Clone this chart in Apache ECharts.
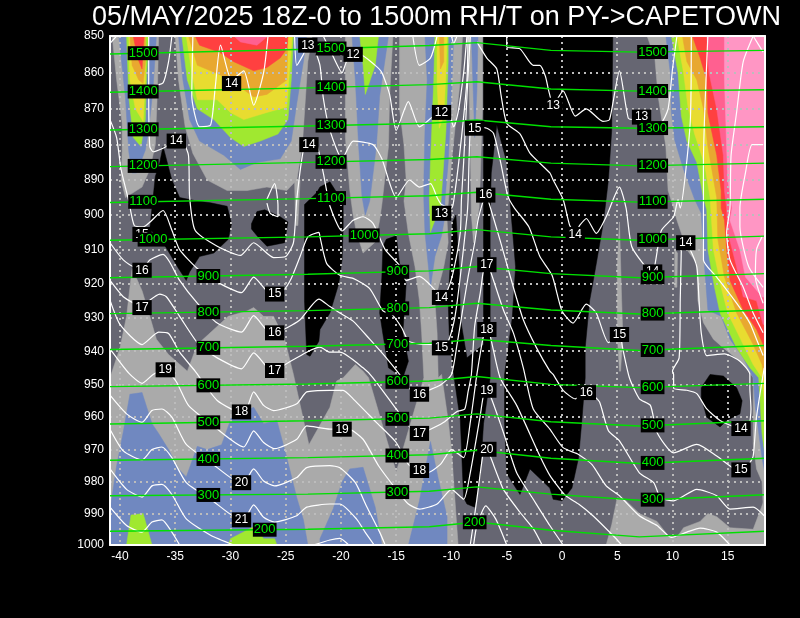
<!DOCTYPE html>
<html><head><meta charset="utf-8">
<style>html,body{margin:0;padding:0;background:#000}#c{width:800px;height:618px}</style>
<script src="https://cdn.jsdelivr.net/npm/echarts@6/dist/echarts.min.js"></script>
</head><body><div id="c"></div>
<script>
const titleText = '05/MAY/2025 18Z-0 to 1500m RH/T on PY->CAPETOWN';
const tempTicks = [-40,-35,-30,-25,-20,-15,-10,-5,0,5,10,15];
const pressureTicks = [850,860,870,880,890,900,910,920,930,940,950,960,970,980,990,1000];
const RH_COLORS = {lgray:'#aaaaaa',dark:'#666672',black:'#000000',blue:'#7088c0',lime:'#a0e830',yellow:'#e8dc30',orange:'#e8a830',red:'#ff4040',hot:'#ff6090',pink:'#ff96c4'};

// RH regions [T, p]
const grayLower=[[-40.9,1000],[-40.9,948],[-40,939],[-39.4,929.6],[-38.9,915.5],[-38,922],[-37.3,929.6],[-36.7,936.4],[-35.6,941],[-33.9,946],[-33,938],[-32,935],[-30.2,929.6],[-28.5,928],[-27.9,927],[-27,929.6],[-26.1,929.6],[-25.1,936.4],[-24.3,947],[-22.9,968.5],[-21,957],[-20.4,949],[-19.8,948],[-18.7,944],[-18,946],[-17.5,948],[-15,977],[-12.5,948],[-12.7,934.5],[-12.9,925],[-13.3,915],[-13.9,905.3],[-14.3,896],[-14.1,890],[-14.3,880],[-14.7,870],[-14.7,850],[-9,850],[-9.2,862],[-9.7,876],[-10,885],[-10.3,897],[-10.4,901.5],[-10.3,908],[-10.7,915],[-11.5,925],[-11.3,934.5],[-11.2,948],[-10.9,947],[-10.3,961],[-10,970],[-9.8,980],[-9.6,990],[-9.4,1000]];
const grayTower1=[[-40.7,850],[-40.3,862],[-39.8,874],[-39.8,882],[-39.9,890],[-39.5,895],[-38,892],[-37.3,887],[-36.8,880],[-36.6,864],[-36.5,850]];
const grayTower2=[[-35,850],[-34.7,862],[-34.1,875],[-33.4,882.5],[-32.1,890],[-30.3,893],[-28.5,893],[-26.7,892],[-24.9,893],[-24,890],[-23.5,880.5],[-23,857],[-22.6,850]];
const graySliver1=[[-24.2,890],[-23.7,890],[-23.9,903],[-24.1,903]];
const grayTower3=[[-19.6,850],[-19.6,878],[-19.2,893],[-18.9,900],[-18.6,905],[-18,911],[-16.9,907.8],[-16.5,901.5],[-16.3,897],[-15.7,880.5],[-15.6,866.5],[-15.3,850]];
const grayRight=[[7.7,850],[8.4,856],[8.7,866.5],[9.4,880.6],[9.6,893],[10.1,898],[10.4,901.5],[11.3,910],[12.2,914],[12.3,925],[12.8,931.5],[13.7,936.4],[14.6,939],[16.1,943],[16.7,945],[17.3,948],[17.3,968],[17.6,976],[18.1,980],[18.37,1000],[18.37,850]];
const graySpindleA=[[5.2,902],[5.4,925],[5.5,935],[5.3,946],[5.2,946],[5,935],[5,915]];
const graySpindleB=[[10.2,910],[10.45,911],[10.4,921],[10.2,921]];
const grayBottomRight=[[4,1000],[4.5,993.5],[5,985],[5.8,986],[7,990],[8.6,992.5],[9.6,997],[10.4,997.6],[11,994.5],[12.5,992.5],[13.2,990],[14,991],[15.2,994.5],[17.3,995],[18.37,985],[18.37,1000]];
const grayStrip=[[-8.5,850],[-7.2,850],[-7.2,870],[-7.4,890],[-7.5,898],[-8,908],[-8.2,900],[-8.3,880]];
const blackA=[[-36.1,880.5],[-35.3,890],[-34.6,895],[-33,896],[-31.8,896.5],[-30.3,897.5],[-29.9,902.5],[-30.2,907],[-31.5,911],[-32.8,912],[-33.7,916.5],[-34,919],[-34.7,915.5],[-35.9,909],[-37.3,904],[-37,895],[-36.8,889],[-36.4,885]];
const blackB=[[-28.1,902.5],[-27.6,899],[-26.9,898.5],[-25.5,900.5],[-24.8,902],[-25.1,908],[-26.7,909],[-27.6,906],[-28.1,904]];
const blackC=[[-23.3,897],[-22.2,893.6],[-21.9,892],[-21,890.5],[-20.5,893],[-19.8,896],[-19.8,904],[-19.9,913],[-20.2,920],[-21,928.6],[-21.9,933.5],[-22,937],[-22.8,941.5],[-23.1,941],[-23.3,925],[-23.3,905]];
const blackD=[[-15.9,907],[-15,906],[-14.7,914],[-14.1,920],[-14.2,925],[-14.4,934.5],[-13.9,943],[-14.4,948],[-15.7,945],[-16.2,935],[-16.5,928.6],[-16.3,918],[-16.2,909]];
const blackMain=[[-7.1,850],[4.6,850],[4.5,876],[4.2,890],[3.9,898],[3.7,903],[3,916],[2.5,925],[2.1,939],[2.1,948],[1.8,961],[1.5,972.5],[0.9,982],[0,986],[-0.8,985.5],[-1.1,982],[-2.9,976],[-3.8,984],[-5,977.5],[-5.2,962],[-5.2,947],[-4.5,930],[-4.2,915],[-5,885],[-5.9,874.5],[-6.4,888],[-6.5,900],[-6.5,948],[-7.1,962],[-7.4,978],[-7.9,988],[-8.6,987],[-8.9,985],[-9,977.5],[-9.2,961],[-9.8,947],[-10.2,935],[-10.3,925],[-9.9,902],[-9.6,900],[-9.3,915],[-9.2,930],[-8.6,942],[-7.1,938]];
const blackOval=[[12.6,951],[13.4,947],[14.6,947.5],[15.8,951],[16.3,955],[16.1,959],[14.9,961],[14.3,963],[13.1,960],[12.6,954]];
const blueT1=[[-40.1,850],[-39.5,867],[-39.2,882],[-38.9,888],[-38.5,888],[-37.7,881.5],[-37.4,876],[-37,864],[-36.7,850]];
const blueT2=[[-34.7,850],[-34.3,862],[-33.7,873],[-32.8,879],[-30.6,883],[-29.1,887],[-27.6,885],[-25.5,884],[-24.5,879],[-24,868.5],[-23.4,857],[-23.1,850]];
const blueT3=[[-19,850],[-18.7,862],[-18.4,880.5],[-18.1,894.6],[-17.8,900],[-17.4,896],[-16.8,880.5],[-16.5,866.5],[-15.7,850]];
const blueT4=[[-12.4,850],[-12.2,862],[-12.4,876],[-12.5,890],[-12.5,896],[-12.4,905],[-11.9,921],[-11.5,912],[-10.9,906],[-10.6,900.5],[-10.6,896],[-10.3,885],[-10,866.5],[-9.8,850]];
const blueStrip=[[-8.2,850],[-7.6,850],[-7.7,865],[-7.9,878],[-8,868]];
const blueRight=[[9.4,850],[9.8,860],[9.9,871],[10.2,878.8],[11,887],[12,895.5],[12.6,899.5],[12.9,915],[13.2,927.7],[14.4,929.6],[15.2,936.4],[16.4,942],[17.3,948],[17.5,957],[18.1,972.5],[18.37,977.5],[18.37,850]];
const blueLowA=[[-40.9,989],[-40.3,975],[-39.7,964.6],[-39.1,953],[-38,952.5],[-37.1,962],[-36.5,965],[-35.6,970],[-34.7,976],[-34,978.5],[-33,969],[-32.1,970],[-30.8,968.5],[-29.9,960],[-27.9,957],[-27,962],[-25.8,961],[-24.9,972.5],[-24,985],[-23.4,992],[-23,1000],[-40.9,1000]];
const blueLowB=[[-21.9,998],[-20.7,988.5],[-19.9,980],[-19.2,976],[-18,975.5],[-16.9,988],[-16.3,1000],[-21.9,1000]];
const blueLowC=[[-13.9,1000],[-12.9,986],[-11.9,967.5],[-11.2,979],[-10.4,991],[-10.4,1000]];
const limeT1=[[-39.4,850],[-39.2,866.5],[-38.8,878],[-38.1,880.5],[-37.7,873],[-37.6,862],[-37.4,850]];
const limeT2=[[-34.4,850],[-33.9,862],[-33,870],[-31.5,873],[-30,878],[-28.8,880.5],[-27.3,879],[-25.7,877],[-24.8,873],[-24.5,862],[-24.3,850]];
const limeT3=[[-18.3,850],[-18,858],[-17.8,866],[-16.9,858],[-16.6,850]];
const limeT4=[[-11.5,850],[-11.6,862],[-11.9,885],[-12,894.6],[-12,896],[-11.9,905],[-11.5,901.5],[-11,898.5],[-10.5,876],[-10.3,857],[-10.3,850]];
const limeRight=[[9.9,850],[10.5,860],[10.8,872],[11.3,879],[12.2,885],[12.8,895],[13.1,898.5],[13.2,910],[13.8,921],[14.3,928.6],[15.8,939],[17,945],[17.8,948],[18.1,965],[18.37,972],[18.37,850]];
const limeLowA=[[-39.4,1000],[-39,990.5],[-37.9,990],[-37.1,1000]];
const limeLowB=[[-30.2,1000],[-30,998],[-27.8,994],[-27,998],[-26,998],[-25.8,1000]];
const yellowT1=[[-39.2,850],[-39.1,862],[-38.6,870],[-37.9,873.5],[-37.7,862],[-37.7,850]];
const yellowT2=[[-34,850],[-33.5,860],[-33,867.5],[-31.2,867.5],[-30,871],[-28.8,873],[-26.7,871],[-24.9,869.5],[-24.6,857],[-24.4,850]];
const yellowT4=[[-11.3,850],[-11.3,863],[-11.1,875.4],[-10.7,872],[-10.5,860],[-10.4,850]];
const yellowRight=[[10.4,850],[11,860],[11.4,869.5],[12,877],[12.9,885.5],[13.4,895],[13.7,910],[14.4,921],[15,928.6],[16.4,938],[17.3,944],[18.1,948],[18.37,958],[18.37,850]];
const orangeT1=[[-39.1,850],[-38.9,858],[-38.3,862],[-37.9,863],[-37.7,857],[-37.7,850]];
const orangeT2=[[-33.8,850],[-33,858],[-31,860.5],[-29.1,864],[-27.9,866.7],[-26.7,866],[-24.9,862],[-24.8,850]];
const orangeT4=[[-11.1,850],[-11,859],[-10.7,857],[-10.7,850]];
const orangeRight=[[10.9,850],[11.3,857],[12.2,862],[12.8,870],[13.2,880.6],[14,895],[14.1,907],[14.7,918],[15.8,928.6],[17.3,938],[18.1,944],[18.37,950],[18.37,850]];
const redT1=[[-38.8,850],[-38.4,856],[-38,859],[-37.9,853.5],[-37.8,850]];
const redT2=[[-33.2,850],[-32.8,852.5],[-31,854.4],[-29.7,857],[-27.9,859.5],[-26.7,858.6],[-25.5,856],[-24.9,853.5],[-24.8,850]];
const redRight=[[11.8,850],[12.5,856],[13.1,862],[13.2,871.2],[14,883],[14.4,893],[14.4,898],[14.7,901.5],[14.9,910],[15.2,919],[16.4,927.7],[17.6,933.5],[18.2,938],[18.37,940],[18.37,850]];
const hotT2=[[-29.7,850],[-29.1,851.6],[-27.6,852.5],[-26.6,850]];
const hotRight=[[13.1,850],[13.3,860],[14,870],[14.6,883],[14.7,893],[14.9,898],[15,905],[15.8,915],[16.4,923.8],[17.6,925],[18.2,932],[18.37,932],[18.37,850]];
const pinkRight=[[14.7,850],[14.7,862],[15,890],[15.4,898],[15.2,901.5],[16.1,910],[16.6,918],[18.1,923.8],[18.37,924],[18.37,850]];

const rhRegions=[
 ['lgray',grayLower],['lgray',grayTower1],['lgray',grayTower2],['lgray',graySliver1],['lgray',grayTower3],['lgray',grayRight],['lgray',grayBottomRight],['lgray',grayStrip],
 ['black',blackA],['black',blackB],['black',blackC],['black',blackD],['black',blackMain],['black',blackOval],
 ['lgray',graySpindleA],['lgray',graySpindleB],
 ['blue',blueT1],['blue',blueT2],['blue',blueT3],['blue',blueT4],['blue',blueStrip],['blue',blueRight],['blue',blueLowA],['blue',blueLowB],['blue',blueLowC],
 ['lime',limeT1],['lime',limeT2],['lime',limeT3],['lime',limeT4],['lime',limeRight],['lime',limeLowA],['lime',limeLowB],
 ['yellow',yellowT1],['yellow',yellowT2],['yellow',yellowT4],['yellow',yellowRight],
 ['orange',orangeT1],['orange',orangeT2],['orange',orangeT4],['orange',orangeRight],
 ['red',redT1],['red',redT2],['red',redRight],['hot',hotT2],['hot',hotRight],['pink',pinkRight]
];

// White isotherm contours [T, p]
const iso12a=[[-21.6,850],[-20.8,855],[-19.9,860],[-19.5,857],[-18.9,855],[-18.3,855],[-16.9,858],[-16.3,860],[-15.6,866],[-15,876],[-13.9,868],[-12.9,875],[-11.6,872],[-10.9,871],[-10.3,871],[-9.8,875],[-9.4,871],[-8.9,860],[-8.6,850]];
const iso12b=[[-13.5,850],[-12.9,858],[-11.9,856],[-11.3,850]];
const iso12c=[[-10,850],[-9.8,852],[-9.5,850]];
const iso13a=[[-24.2,850],[-24,858],[-23.4,855],[-23,852.5],[-22.5,853],[-21.9,858],[-21.6,867],[-21,876],[-19.9,884],[-18.9,879],[-17.1,880],[-16.3,884],[-15,895],[-13.8,890],[-12.9,892],[-11.9,891],[-11.3,895],[-10.9,897],[-10,898],[-9.8,896],[-9.2,881],[-8.6,862],[-8.5,850]];
const iso13b=[[-5,850],[-5,853],[-3.8,853.5],[-2.6,858],[-2,858],[-1.5,861],[-1.2,865],[-0.8,869],[0.1,865],[1.2,872],[2.2,870],[3.7,873.5],[4.3,873],[5.2,859.5],[6,872.6],[6.6,873],[7.2,872.3],[7.8,873.5],[8.9,874],[9.6,870],[10,859],[10.4,850]];
const iso13c=[[-37.3,863.7],[-36.1,862.8],[-35.6,857],[-35.3,850]];
const iso13d=[[-40.9,852],[-40.3,850]];
const iso14a=[[-37.4,850],[-37.4,864],[-37.3,880.5],[-37,882],[-36.1,881],[-34.9,879],[-34.4,879],[-33.8,883],[-33.7,894.6],[-33.2,904.4],[-31.2,909],[-29.1,911.7],[-27.9,908],[-26.1,912.3],[-25,912],[-24.3,908],[-24,895.6],[-23.4,881.5],[-23,879.4],[-22.2,880],[-21.6,888],[-21,897.4],[-19.9,904.6],[-18.9,901.5],[-18,900.5],[-17.1,902.4],[-16,910],[-14.7,914.6],[-14.1,919],[-12.9,917.8],[-11.6,921.4],[-10.9,924.3],[-10.3,921.4],[-9.8,916],[-9.2,905],[-9.1,895.6],[-8.9,885],[-8.6,866.5],[-8.3,850]];
const iso14b=[[-7.7,851.6],[-6.8,856],[-5.9,859],[-5.5,866.5],[-5,874],[-3.8,877],[-2.9,882.4],[-1.1,888],[-0.8,890],[0.1,895.5],[0.7,903],[1.2,905],[1.6,903],[2.2,901],[3.1,905.3],[4,900.5],[5.2,892],[5.8,898],[6.3,909],[7.7,915.5],[8.2,916.5],[8.4,914.6],[9,904.4],[10.1,900.5],[10.5,895.6],[10.7,898],[11.6,874],[11.7,850]];
const iso14c=[[-33.4,850],[-33.5,866.5],[-32.8,875],[-31.8,874.5],[-31.4,864.7],[-30.9,852.5],[-29.9,862],[-28.8,859.5],[-27.9,869],[-27,860],[-26.6,850]];
const iso14d=[[10.8,909.7],[11.2,908],[11.6,910],[12.2,915],[12.4,924.8],[12.6,934.5],[13.1,941.3],[14.7,940.8],[16.1,943],[17,947],[17,951],[17.1,957.5],[16.9,962.7],[16.2,963.5],[15.6,963],[14.3,961],[13.1,957.5],[12.2,952.8],[11.3,951.8],[10.1,951.2],[10.1,947],[10,946],[10.6,942],[10.7,924.8],[10.8,909.7]];
const iso15=[[-40.9,873],[-40.3,878],[-39.9,887],[-39.2,896],[-38.7,903],[-37.9,903.4],[-36.1,898.7],[-35.3,904.4],[-34.6,910],[-33,915.5],[-30.9,920],[-29,922.6],[-27.9,918],[-26.4,922.8],[-25.2,921.8],[-24.5,918.4],[-23.7,912],[-23,906.3],[-22,905],[-21.9,906.3],[-21.3,914],[-20.1,917.5],[-18.9,918.4],[-17.4,921.4],[-16.2,928],[-15.4,929],[-14.5,933],[-13.9,936.9],[-12.9,937.9],[-11.5,938],[-10.9,938.3],[-10.3,937],[-9.8,931.6],[-9.5,925.7],[-9.1,915],[-8.6,900.5],[-8.5,895.6],[-8.3,876],[-7.9,875],[-6.8,875.4],[-6.2,876.8],[-5.6,884.3],[-4.9,894.6],[-4.3,898],[-3,903.4],[-2,912],[-0.9,917.5],[0,928],[1,931.6],[2.2,926],[3.1,928.6],[4.2,937.4],[5.2,935],[5.5,939.3],[6.1,948],[7,954.4],[8,956.4],[8.6,964.7],[10.1,971],[12.2,968.4],[14,972],[15.6,976],[16.2,976.3],[16.9,974.6],[17.3,972],[17.6,960],[18.3,945]];
const iso16=[[-40.9,908],[-39.7,913],[-38.5,915.5],[-38,915.7],[-37.3,913],[-36.1,911.4],[-35.5,913.6],[-34.6,919],[-33,925.7],[-31.2,931.6],[-29,934.3],[-27.9,929.4],[-26.4,934.5],[-25.2,933.5],[-23.7,930.6],[-22,924.5],[-21,926.7],[-20.1,928.6],[-18.9,931],[-17.4,936.4],[-15.9,942],[-14.7,947],[-13.9,951],[-12.9,953.3],[-12.4,952.3],[-11,950.2],[-10,947],[-9.5,938],[-9,928],[-8.5,918],[-7.9,908],[-7.6,901.5],[-7.1,895.6],[-6.9,894],[-6.7,895.6],[-5.6,907.3],[-4.4,921],[-3.5,930.6],[-2.3,939],[-1.1,946],[-0.8,947],[0.1,951.8],[1.2,954.4],[2.2,952.8],[2.8,953.3],[3.4,955.4],[4.2,964.2],[5.2,967.3],[7,977.2],[8.3,980.3],[8.9,985],[10.1,986],[12.2,982.4],[14,984.4],[15.2,988.6],[17.3,988],[18.3,990.7]];
const iso17=[[-40.9,919],[-39.7,923.8],[-38.5,926.2],[-38,927],[-37.3,924.8],[-36.4,923],[-35.8,923.8],[-34.6,929.6],[-32.8,938.3],[-31.2,942],[-29,945.3],[-27.9,940.5],[-26.6,945.1],[-26,945.8],[-24.9,943.7],[-23.1,940.3],[-21.9,938.8],[-21,940.3],[-20.1,940.3],[-18,945],[-17.1,948],[-15,957.5],[-13.5,964.2],[-12.9,964.9],[-12.2,964.2],[-10.7,961.6],[-9.5,958.3],[-8.8,957.5],[-8.5,952.3],[-8.2,947],[-7.9,932.5],[-7.4,922.8],[-7.1,916],[-6.8,914],[-6.5,916],[-5.3,927.7],[-4.4,934.5],[-3.5,945],[-2.6,957.5],[-1.1,963.7],[0.1,969.4],[1.5,971.5],[2.7,974.6],[4,981.3],[5.2,984.4],[7,990.7],[8.6,993.8],[9.9,997.6],[11.3,995.9],[12.5,994.6],[14,995.9],[15.2,1000]];
const iso18=[[-40.9,924.8],[-40,932],[-38,938],[-36.5,934.3],[-35.6,934.7],[-34.6,940.3],[-33.2,946],[-31.2,954.9],[-28.8,959],[-27.9,952.3],[-27,956.4],[-26.1,958],[-24,955.9],[-23.1,952.3],[-21,951.8],[-19.8,951.8],[-18.9,954.4],[-16.8,961.6],[-15,967.8],[-13.9,974.6],[-12.9,977],[-12.2,977.2],[-11,974.6],[-10,970],[-8.9,972.5],[-8.3,961.6],[-7.7,947],[-7.1,935.4],[-6.8,933.5],[-6.5,935.4],[-5.6,948],[-4.1,956.4],[-2,972],[-1.1,978],[0.3,984.3],[1.5,987],[2.8,990.7],[4.9,998],[5.4,1000]];
const iso19=[[-40.9,939.3],[-39.2,946.6],[-38,949.7],[-37,947],[-35.9,945.6],[-34.9,949.2],[-33.8,956.4],[-31.8,962],[-28.8,969.2],[-27.9,964.2],[-27,967.8],[-26,969.7],[-24,966.8],[-23.1,962.7],[-21,963.7],[-19.9,963.7],[-19.3,963.7],[-18,966.8],[-16.6,975],[-15,982.4],[-13.9,987],[-12.9,988.6],[-11.3,987],[-10,982.4],[-8.9,985.5],[-8.3,977.2],[-7.4,959.5],[-7.1,953.3],[-6.8,951.8],[-6.5,953.3],[-5.3,964.7],[-4.1,977.2],[-2.6,985.5],[-1.1,993.8],[0.1,1000]];
const iso20a=[[-40.9,953.3],[-39.4,959],[-38,961.6],[-37.1,958],[-36.2,957.5],[-35.3,960],[-34,968.4],[-31.8,974],[-28.9,980.8],[-27.9,976],[-27,979.8],[-26,981.3],[-24,978.7],[-23.1,975.6],[-21,975],[-20.1,975.6],[-18.7,980.3],[-17.7,987.6],[-16.5,995.9],[-16,1000]];
const iso20b=[[-8.3,1000],[-7.7,985.5],[-7.1,970.4],[-6.8,970],[-6.5,972],[-5.3,982.4],[-3.8,989.6],[-2.6,994.8],[-1.8,1000]];
const iso21a=[[-40.9,963.7],[-39.7,970.4],[-38,973.2],[-37.1,970],[-36.2,969.2],[-35.3,972.5],[-34,980.3],[-31.8,985.5],[-28.9,992.4],[-27.9,987.3],[-27,991.2],[-26,992.7],[-24,990.7],[-23.1,988],[-21,987],[-20.1,987],[-18.6,991.7],[-17.8,996],[-17,1000]];
const iso21b=[[-8,1000],[-7.7,993.8],[-6.9,987.6],[-6,991.7],[-5,1000]];
const iso22a=[[-40.9,976],[-39.4,982.4],[-38,984.8],[-37.1,981.3],[-36.2,980.8],[-35.3,984],[-34,991.7],[-31.8,996.9],[-29.7,1000]];
const iso22b=[[-22.5,1000],[-21,998.4],[-20.1,997.9],[-19.3,1000]];
const iso23=[[-40.9,988],[-39.4,993.8],[-38,995.9],[-37.1,992.7],[-36.2,992],[-35.3,995.9],[-34.6,1000]];
const isoLoop=[[-26.7,895.5],[-26,891],[-25.7,897.4],[-25.7,900.5],[-26.4,899.5],[-26.7,896.6]];
const isoR1=[[13.2,850],[12.8,885],[12.8,898],[12.8,913],[14,918],[15.8,925.7],[17,931.6],[17.6,936.4],[18.2,941.3]];
const isoR2=[[17.3,850],[16.4,857],[15.8,871],[15.3,883],[15.2,898],[14.9,905],[15.2,913],[16.4,921],[17.3,928.6],[18.2,934.5]];
const isoR3=[[18.2,880],[17.2,880],[16.6,888],[16.1,898],[16.1,903.4],[16.9,915],[18.2,921]];
const isoR4=[[17.3,850],[18.2,854.4]];
const isoR5=[[18.1,906.3],[17.6,910],[17.5,918],[18.2,925.7]];
const isotherms=[iso12a,iso12b,iso12c,iso13a,iso13b,iso13c,iso13d,iso14a,iso14b,iso14c,iso14d,iso15,iso16,iso17,iso18,iso19,iso20a,iso20b,iso21a,iso21b,iso22a,iso22b,iso23,isoLoop,isoR1,isoR2,isoR3,isoR4,isoR5];

// Green height contours: pressure at each column of heightTemps
const heightTemps=[-40.9,-23,-12,-7.7,-1,7,18.37];
const h1500=[854.9,853.6,852.6,851.8,853.9,854.4,853.9];
const h1400=[865.4,864.2,863.3,862.5,864.5,865.1,864.7];
const h1300=[875.9,874.8,874,873.1,875,875.4,875];
const h1200=[886.2,885,884.2,883.4,885.2,886,885.2];
const h1100=[896.4,895.3,894.5,893.5,895.5,896.3,895.5];
const h1000=[907.3,906.3,905.4,904.2,906.3,907.3,906.1];
const h900=[918.2,917.2,916.2,914.9,917,918.2,917];
const h800=[928.8,927.9,927,925.7,927.7,928.9,927.7];
const h700=[939.5,938.5,937.6,936.4,938.3,939.8,938.3];
const h600=[950.7,949.9,949,947.6,950,951,949.7];
const h500=[962.1,961.1,960.3,959,961.4,962.7,961.1];
const h400=[973.3,972.5,971.6,970.2,972.7,974.3,972.7];
const h300=[984.4,983.9,983,981.6,983.9,985.8,984.1];
const h200=[995.6,995,994.2,992.7,995.3,997.4,995.6];
const heightLines=[[1500,h1500],[1400,h1400],[1300,h1300],[1200,h1200],[1100,h1100],[1000,h1000],[900,h900],[800,h800],[700,h700],[600,h600],[500,h500],[400,h400],[300,h300],[200,h200]];
// label columns per height: T of left, middle, right label
const heightLabelCols={1500:[-37.9,-20.9,8.2],1400:[-37.9,-20.9,8.2],1300:[-37.9,-20.9,8.2],1200:[-37.9,-20.9,8.2],1100:[-37.9,-20.9,8.2],1000:[-37,-17.9,8.2],900:[-32,-14.9,8.2],800:[-32,-14.9,8.2],700:[-32,-14.9,8.2],600:[-32,-14.9,8.2],500:[-32,-14.9,8.2],400:[-32,-14.9,8.2],300:[-32,-14.9,8.2],200:[-26.9,-7.9]};

// Isotherm labels [text, T, p]
const isoLabels=[['13',-23,852.5],['12',-18.9,855],['14',-29.9,863],['13',-0.8,869],['13',7.2,872.3],['12',-10.9,871],['15',-7.9,875.4],['14',-34.9,879],['14',-22.9,880],['16',-6.9,894.3],['13',-10.9,899.5],['15',-38,905.6],['14',1.2,905.6],['14',11.2,908],['16',-38,916],['14',8.2,916.5],['17',-6.8,914.4],['15',-26,923],['14',-10.9,924],['17',-38,927],['16',-26,934.5],['18',-6.8,933.5],['15',5.2,935],['15',-10.9,939],['19',-35.9,945.6],['17',-26,945.8],['19',-6.8,951.8],['16',-12.9,953],['16',2.2,952.5],['18',-29,958.4],['19',-19.9,963.7],['17',-12.9,965],['14',16.2,963.5],['20',-6.8,969.9],['18',-12.9,976.5],['15',16.2,976.3],['20',-29,980.3],['21',-29,992]];

function pAt(arr,T){for(let i=0;i<heightTemps.length-1;i++){if(T<=heightTemps[i+1]){const f=(T-heightTemps[i])/(heightTemps[i+1]-heightTemps[i]);return arr[i]+f*(arr[i+1]-arr[i]);}}return arr[arr.length-1];}

const series=[];
series.push({type:'custom',coordinateSystem:'cartesian2d',z:2,clip:true,silent:true,animation:false,
 encode:{x:0,y:1},
 data:rhRegions.map((r,i)=>[r[1][0][0],r[1][0][1],i]),
 renderItem:(params,api)=>{const r=rhRegions[api.value(2)];
  return {type:'polygon',shape:{points:r[1].map(q=>api.coord(q))},style:{fill:RH_COLORS[r[0]],stroke:RH_COLORS[r[0]],lineWidth:0.5}};}
});
isotherms.forEach(a=>series.push({type:'line',data:a,z:5,showSymbol:false,smooth:0.2,silent:true,animation:false,lineStyle:{color:'#ffffff',width:1.2},clip:true}));
heightLines.forEach(h=>series.push({type:'line',data:heightTemps.map((t,i)=>[t,h[1][i]]),z:6,showSymbol:false,silent:true,animation:false,lineStyle:{color:'#00e000',width:1.4}}));
series.push({type:'scatter',z:7,symbolSize:0,silent:true,animation:false,itemStyle:{opacity:1},
 data:isoLabels.map(l=>({value:[l[1],l[2]],label:{formatter:l[0]}})),
 label:{show:true,position:'inside',color:'#fff',opacity:1,fontFamily:'Liberation Sans',fontSize:12,backgroundColor:'#000',padding:[2,3,1,3]}});
const hLabelData=[];
heightLines.forEach(h=>(heightLabelCols[h[0]]).forEach(T=>hLabelData.push({value:[T,pAt(h[1],T)],label:{formatter:String(h[0])}})));
series.push({type:'scatter',z:8,symbolSize:0,silent:true,animation:false,itemStyle:{opacity:1},data:hLabelData,
 label:{show:true,position:'inside',color:'#00ee00',opacity:1,fontFamily:'Liberation Sans',fontSize:13,backgroundColor:'#000',padding:[1,1,0,1]}});

const chart=echarts.init(document.getElementById('c'),null,{renderer:'canvas'});
const axisText={color:'#fff',fontFamily:'Liberation Sans',fontSize:12};
chart.setOption({
 animation:false,backgroundColor:'#000',
 title:{text:titleText,left:87,top:-1,textStyle:{color:'#fff',fontFamily:'Liberation Sans',fontWeight:'normal',fontSize:27}},
 grid:{left:110,right:35,top:36,bottom:73,show:true,backgroundColor:RH_COLORS.dark,borderWidth:0},
 xAxis:[{type:'value',min:-40.9,max:18.37,z:4,
   axisLine:{show:true,onZero:false,lineStyle:{color:'#fff',width:2}},
   axisTick:{show:false,customValues:tempTicks},
   axisLabel:{...axisText,customValues:tempTicks,margin:6,formatter:v=>String(v)},
   splitLine:{show:true,lineStyle:{color:'#bcbcbc',type:[2,4],width:2}}},
  {type:'value',position:'top',min:-40.9,max:18.37,z:9,axisLine:{show:true,onZero:false,lineStyle:{color:'#fff',width:2}},axisTick:{show:false},axisLabel:{show:false},splitLine:{show:false}}],
 yAxis:[{type:'log',logBase:10,inverse:true,min:850,max:1000,z:4,
   axisLine:{show:true,onZero:false,lineStyle:{color:'#fff',width:2}},
   axisTick:{show:false,customValues:pressureTicks},
   axisLabel:{...axisText,customValues:pressureTicks,margin:6,formatter:v=>String(v)},
   splitLine:{show:true,lineStyle:{color:'#bcbcbc',type:[2,4],width:2}}},
  {type:'log',logBase:10,position:'right',inverse:true,min:850,max:1000,z:9,axisLine:{show:true,onZero:false,lineStyle:{color:'#fff',width:2}},axisTick:{show:false},axisLabel:{show:false},splitLine:{show:false}}],
 series
});
</script></body></html>
